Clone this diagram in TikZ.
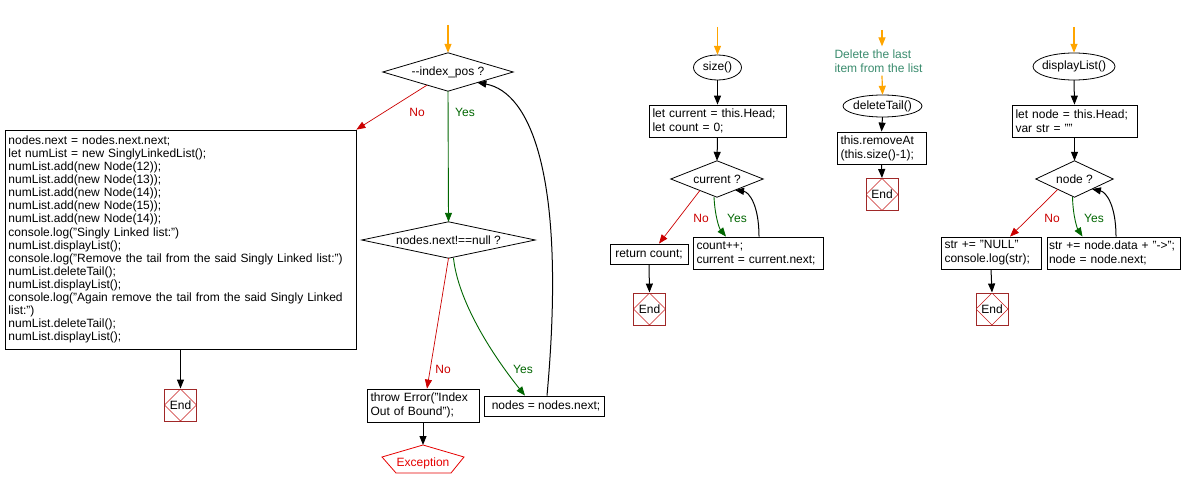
\documentclass[tikz,border=0pt]{standalone}
\usepackage{fontspec}
\setmainfont{Liberation Sans}
\usetikzlibrary{arrows.meta,calc}
\definecolor{nored}{RGB}{204,0,0}
\definecolor{yesgreen}{RGB}{0,102,0}
\definecolor{startorange}{RGB}{255,165,0}
\definecolor{endbrown}{RGB}{160,40,40}
\definecolor{enddiam}{RGB}{200,30,30}
\definecolor{excred}{RGB}{230,0,0}
\definecolor{notegreen}{RGB}{58,140,110}
\begin{document}
\begin{tikzpicture}[x=1pt,y=-1pt,
  font=\fontsize{12}{14}\selectfont,
  box/.style={draw, rectangle, line width=0.8pt, inner xsep=3.5pt, inner ysep=0pt, align=left},
  sbox/.style={draw, rectangle, line width=0.8pt, inner sep=0pt, align=center},
  shapebox/.style={rectangle, inner sep=0pt},
  outline/.style={line width=0.8pt},
  endnode/.style={draw=endbrown, rectangle, minimum width=32pt, minimum height=32pt, inner sep=0pt, line width=0.9pt,
    path picture={\draw[enddiam, line width=0.6pt] (path picture bounding box.north) -- (path picture bounding box.east) -- (path picture bounding box.south) -- (path picture bounding box.west) -- cycle;}},
  flow/.style={-{Triangle[length=9pt,width=7pt]}, line width=1pt},
  startflow/.style={flow, draw=startorange, line width=1.2pt},
  noflow/.style={flow, draw=nored, line width=0.7pt},
  yesflow/.style={flow, draw=yesgreen, line width=0.9pt},
  nolabel/.style={text=nored, inner sep=0pt},
  yeslabel/.style={text=yesgreen, inner sep=0pt}
]
\fill[white] (0,0) rectangle (1185,492);
\useasboundingbox (0,0) rectangle (1185,492);

% ===== main section =====
\coordinate (s1) at (448,25);
\node[shapebox, minimum width=130pt, minimum height=38pt] (d1) at (448,72) {-\kern0pt-index\_pos ?};
\draw[outline] (d1.north) -- (d1.east) -- (d1.south) -- (d1.west) -- cycle;
\node[shapebox, minimum width=173pt, minimum height=36pt] (d2) at (448.5,240) {nodes.next!==null ?};
\draw[outline] (d2.north) -- (d2.east) -- (d2.south) -- (d2.west) -- cycle;

\node[box, text width=344pt, minimum height=219pt, font=\fontsize{12}{13.1}\selectfont] (big) at (180.5,239.5) {nodes.next = nodes.next.next;\\
let numList = new SinglyLinkedList();\\
numList.add(new Node(12));\\
numList.add(new Node(13));\\
numList.add(new Node(14));\\
numList.add(new Node(15));\\
numList.add(new Node(14));\\
console.log("Singly Linked list:")\\
numList.displayList();\\
console.log("Remove the tail from the said Singly Linked list:")\\
numList.deleteTail();\\
numList.displayList();\\
console.log("Again remove the tail from the said Singly Linked\\
list:")\\
numList.deleteTail();\\
numList.displayList();};
\node[endnode] (end1) at (180.5,405) {End};

\node[box, text width=105pt, minimum height=33pt] (throw) at (423,405.5) {throw Error("Index\\Out of Bound");};
\node[sbox, minimum width=120pt, minimum height=20pt] (nn) at (544,406) {\hspace{4pt}nodes = nodes.next;};

\node[text=excred, inner sep=0pt] (exc) at (423,463) {Exception};
\coordinate (excTop) at (423,445);
\coordinate (excR) at (464,457);
\coordinate (excBR) at (451,473);
\coordinate (excBL) at (396,473);
\coordinate (excL) at (382,457);
\draw[excred, line width=0.8pt] (excTop) -- (excR) -- (excBR) -- (excBL) -- (excL) -- cycle;

\draw[startflow] (s1) -- (d1.north);
\draw[yesflow] (d1.south) -- (d2.north);
\node[yeslabel] (y1) at (465,112) {Yes};
\draw[noflow] ($(d1.west)!0.68!(d1.south)$) -- (big.north east);
\node[nolabel] (n1) at (417,112) {No};
\draw[noflow] (d2.south) -- ([xshift=4pt]throw.north);
\node[nolabel] (n2) at (443,369) {No};
\draw[yesflow] ([xshift=5pt]d2.south) .. controls (458,300) and (490,352) .. ([xshift=-19pt]nn.north);
\node[yeslabel] (y2) at (523,369) {Yes};
\draw[flow] ([xshift=3pt]nn.north) .. controls (567,175) and (530,92) .. ($(d1.east)!0.55!(d1.south)$);
\draw[flow] (throw.south) -- (excTop);
\draw[flow] (big.south) -- (end1.north);

% ===== size() =====
\coordinate (s2) at (717.5,27);
\node[shapebox, minimum width=48pt, minimum height=25pt] (size) at (717.5,67.5) {size()};
\draw[outline] (size.center) ellipse [x radius=24, y radius=12.5];
\node[box, text width=130pt, minimum height=32pt] (sbx) at (717.5,121) {let current = this.Head;\\let count = 0;};
\node[shapebox, minimum width=92pt, minimum height=36pt] (d3) at (717,179) {current ?};
\draw[outline] (d3.north) -- (d3.east) -- (d3.south) -- (d3.west) -- cycle;
\node[sbox, minimum width=78pt, minimum height=20pt] (ret) at (649,254) {return count;};
\node[box, text width=123pt, minimum height=32pt] (cnt) at (758,253) {count++;\\current = current.next;};
\node[endnode] (end2) at (649.5,309) {End};

\draw[startflow] (s2) -- (size.north);
\draw[flow] (size.south) -- (sbx.north);
\draw[flow] (sbx.south) -- (d3.north);
\draw[noflow] ($(d3.west)!0.63!(d3.south)$) -- ([xshift=10pt]ret.north);
\node[nolabel] (n3) at (701,218) {No};
\draw[yesflow] ([xshift=-3pt]d3.south) .. controls (715,216) and (719,228) .. ([xshift=-32pt]cnt.north);
\node[yeslabel] (y3) at (737,218) {Yes};
\draw[flow] ([xshift=1pt]cnt.north) .. controls (759,205) and (749,192) .. ($(d3.east)!0.61!(d3.south)$);
\draw[flow] (ret.south) -- (end2.north);

% ===== deleteTail() =====
\coordinate (s3) at (882,30);
\node[text=notegreen, align=left, inner xsep=0pt, inner ysep=3pt] (note) at (878.5,61) {Delete the last\\item from the list};
\node[shapebox, minimum width=79pt, minimum height=22pt] (dt) at (882.5,106) {deleteTail()};
\draw[outline] (dt.center) ellipse [x radius=39.5, y radius=11];
\node[box, text width=82pt, minimum height=32pt] (rm) at (881.5,148) {this.removeAt\\(this.size()-1);};
\node[endnode] (end3) at (882,194.5) {End};

\draw[startflow] (s3) -- ([xshift=3.5pt]note.north);
\draw[startflow] ([xshift=3.5pt]note.south) -- (dt.north);
\draw[flow] (dt.south) -- (rm.north);
\draw[flow] (rm.south) -- (end3.north);

% ===== displayList() =====
\coordinate (s4) at (1074,27);
\node[shapebox, minimum width=82pt, minimum height=27pt] (dl) at (1074,66.5) {displayList()};
\draw[outline] (dl.center) ellipse [x radius=41, y radius=13.5];
\node[box, text width=118pt, minimum height=32pt] (dlb) at (1074.5,121) {let node = this.Head;\\var str = ""};
\node[shapebox, minimum width=77pt, minimum height=36pt] (d4) at (1074.5,179) {node ?};
\draw[outline] (d4.north) -- (d4.east) -- (d4.south) -- (d4.west) -- cycle;
\node[box, text width=93pt, minimum height=32pt] (nul) at (991,253) {str += "NULL"\\console.log(str);};
\node[box, inner xsep=2pt, text width=129pt, minimum height=32pt] (nd) at (1113.5,253) {\mbox{str += node.data + "->";}\\node = node.next;};
\node[endnode] (end4) at (992,309) {End};

\draw[startflow] (s4) -- (dl.north);
\draw[flow] (dl.south) -- (dlb.north);
\draw[flow] (dlb.south) -- (d4.north);
\draw[noflow] ($(d4.west)!0.57!(d4.south)$) -- ([xshift=19pt]nul.north);
\node[nolabel] (n4) at (1052,218) {No};
\draw[yesflow] ([xshift=-2pt]d4.south) .. controls (1073,216) and (1077,228) .. ([xshift=-31pt]nd.north);
\node[yeslabel] (y4) at (1094,218) {Yes};
\draw[flow] ([xshift=2.5pt]nd.north) .. controls (1116,205) and (1106,192) .. ($(d4.east)!0.55!(d4.south)$);
\draw[flow] (nul.south) -- (end4.north);
\end{tikzpicture}
\end{document}
